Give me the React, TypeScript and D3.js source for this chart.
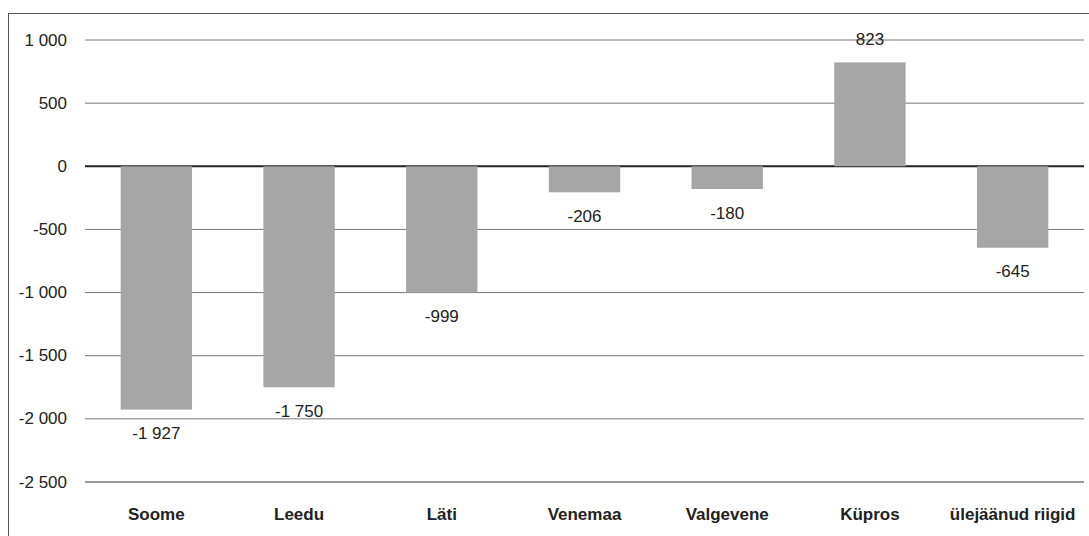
import * as d3 from 'd3'

const categories = ['Soome', 'Leedu', 'Läti', 'Venemaa', 'Valgevene', 'Küpros', 'ülejäänud riigid']
const values = [-1927, -1750, -999, -206, -180, 823, -645]
const yTicks = [1000, 500, 0, -500, -1000, -1500, -2000, -2500]

const W = 1089
const H = 536
const margin = { top: 40, right: 5, bottom: 54, left: 85 }

const locale = d3.formatLocale({
  decimal: ',',
  thousands: '\u00a0',
  grouping: [3],
  currency: ['', ''],
  minus: '-',
})
const fmt = locale.format(',d')

export default function App() {
  const innerW = W - margin.left - margin.right
  const scaleX = d3.scaleBand().domain(categories).range([0, innerW]).paddingInner(0.5).paddingOuter(0.25)
  const scaleY = d3.scaleLinear().domain([-2500, 1000]).range([H - margin.bottom, margin.top])

  return (
    <svg
      width={W}
      height={H}
      style={{ position: 'absolute', left: 0, top: 0, fontFamily: 'Liberation Sans, Arial, sans-serif' }}
    >
      <rect x={8.5} y={13.5} width={W + 10} height={H + 10} fill="white" stroke="#555" strokeWidth={1} />
      {yTicks.map((t) => (
        <g key={t}>
          <line
            x1={margin.left}
            x2={W - margin.right}
            y1={scaleY(t)}
            y2={scaleY(t)}
            stroke={t === 0 ? '#222' : t === -2500 ? '#333' : '#777'}
            strokeWidth={t === 0 ? 2 : 1}
          />
          <text x={67} y={scaleY(t)} textAnchor="end" dominantBaseline="central" fontSize={17} fill="#222">
            {fmt(t)}
          </text>
        </g>
      ))}
      {categories.map((c, i) => {
        const v = values[i]
        const x = (scaleX(c) || 0) + margin.left
        const y0 = scaleY(0)
        const y1 = scaleY(v)
        const cx = x + scaleX.bandwidth() / 2
        return (
          <g key={c}>
            <rect x={x} y={Math.min(y0, y1)} width={scaleX.bandwidth()} height={Math.abs(y1 - y0)} fill="#a6a6a7" />
            <text
              x={cx}
              y={v < 0 ? y1 + 24 : y1 - 23}
              textAnchor="middle"
              dominantBaseline="central"
              fontSize={17}
              fill="#222"
            >
              {fmt(v)}
            </text>
            <text x={cx} y={514} textAnchor="middle" dominantBaseline="central" fontSize={17} fontWeight="bold" fill="#222">
              {c}
            </text>
          </g>
        )
      })}
    </svg>
  )
}
